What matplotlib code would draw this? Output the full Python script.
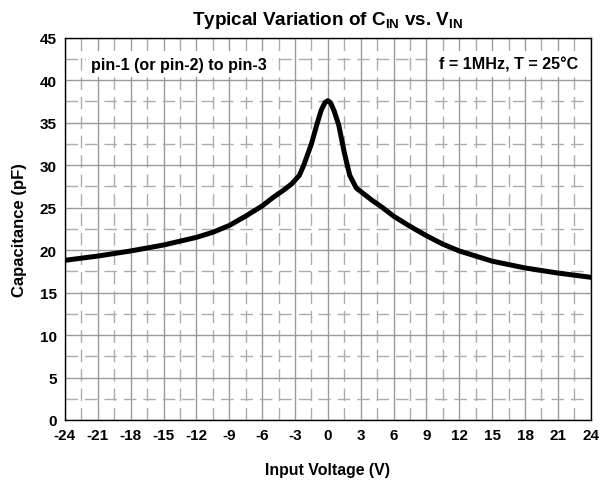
import numpy as np
import matplotlib
matplotlib.use("Agg")
import matplotlib.pyplot as plt
from matplotlib.ticker import MultipleLocator

plt.rcParams['font.family'] = ['Liberation Sans', 'DejaVu Sans']
plt.rcParams['font.weight'] = 'bold'
plt.rcParams['axes.unicode_minus'] = False
plt.rcParams['mathtext.fontset'] = 'custom'
plt.rcParams['mathtext.rm'] = 'Liberation Sans:bold'
plt.rcParams['mathtext.bf'] = 'Liberation Sans:bold'

# values
vin = [-24, -21, -18, -15, -12, -10.5, -9, -7.5, -6, -5, -4, -3.3, -2.6, -2.2, -1.5, -1, -0.6, -0.25,
       0, 0.25, 0.6, 1, 1.5, 2, 2.6, 3.2, 4, 5, 6, 7.5, 9, 10.5, 12, 15, 18, 21, 24]
cin = [18.8, 19.3, 19.9, 20.6, 21.5, 22.1, 22.9, 24.0, 25.2, 26.2, 27.1, 27.8, 28.8, 30.0, 32.5, 34.8, 36.5, 37.4,
       37.6, 37.35, 36.3, 34.7, 31.5, 28.8, 27.3, 26.7, 25.9, 25.0, 24.0, 22.8, 21.7, 20.7, 19.9, 18.7, 17.9, 17.3, 16.8]

xticks = np.arange(-24, 25, 3)
yticks = np.arange(0, 46, 5)

fig = plt.figure(figsize=(6.01, 4.85), dpi=100)
ax = fig.add_axes([0.108, 0.132, 0.875, 0.788])

ax.set_xlim(-24, 24)
ax.set_ylim(0, 45)
ax.set_xticks(xticks)
ax.set_yticks(yticks)
ax.xaxis.set_minor_locator(MultipleLocator(1.5))
ax.yaxis.set_minor_locator(MultipleLocator(2.5))
ax.grid(which='major', color='#9a9a9a', lw=1.0)
ax.grid(which='minor', color='#acacac', lw=1.0, ls=(0, (9, 5)))
ax.set_axisbelow(True)
ax.tick_params(which='both', length=0, labelsize=11, pad=6)
for lab in ax.get_xticklabels() + ax.get_yticklabels():
    lab.set_fontweight('bold')
for s in ax.spines.values():
    s.set_color('black')
    s.set_linewidth(1.0)

ax.plot(vin, cin, color='black', lw=3.6, solid_joinstyle='round', solid_capstyle='round', zorder=3)

ax.text(-21.6, 41.9, 'pin-1 (or pin-2) to pin-3', fontsize=11.6, fontweight='bold',
        ha='left', va='center', bbox=dict(facecolor='white', edgecolor='none', pad=4), zorder=4)
ax.text(22.9, 41.9, 'f = 1MHz, T = 25°C', fontsize=11.6, fontweight='bold',
        ha='right', va='center', bbox=dict(facecolor='white', edgecolor='none', pad=4), zorder=4)

ax.set_title(r'Typical Variation of C$_{\mathbf{IN}}$ vs. V$_{\mathbf{IN}}$',
             fontsize=13.6, fontweight='bold', pad=10)
ax.set_xlabel('Input Voltage (V)', fontsize=11.4, fontweight='bold', labelpad=14)
ax.set_ylabel('Capacitance (pF)', fontsize=12, fontweight='bold', labelpad=9)

fig.savefig('out.png', dpi=100)
